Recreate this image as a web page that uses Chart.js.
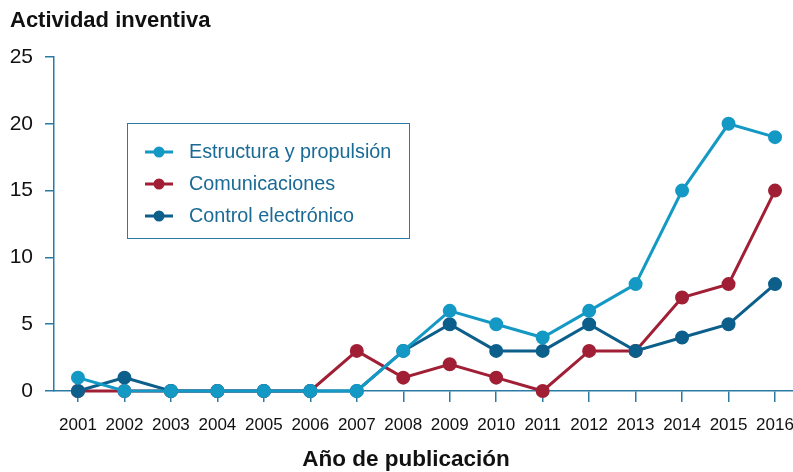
<!DOCTYPE html>
<html>
<head>
<meta charset="utf-8">
<script src="https://cdn.jsdelivr.net/npm/chart.js@4.4.1/dist/chart.umd.min.js"></script>
<style>
  html, body { margin: 0; padding: 0; background: #fff; }
  #wrap { width: 793px; height: 472px; }
</style>
</head>
<body>
<div id="wrap"><canvas id="lineChart"></canvas></div>
<script>
// data
const years = [2001, 2002, 2003, 2004, 2005, 2006, 2007, 2008, 2009, 2010, 2011, 2012, 2013, 2014, 2015, 2016];
const estructura = [1, 0, 0, 0, 0, 0, 0, 3, 6, 5, 4, 6, 8, 15, 20, 19];
const comunicaciones = [0, 0, 0, 0, 0, 0, 3, 1, 2, 1, 0, 3, 3, 7, 8, 15];
const control = [0, 1, 0, 0, 0, 0, 0, 3, 5, 3, 3, 5, 3, 4, 5, 8];
const yTicks = [0, 5, 10, 15, 20, 25];

const axisColor = "#2b7aa5";
const fontFamily = "'Liberation Sans', Arial, Helvetica, sans-serif";

function points(values) {
  return values.map((v, i) => ({ x: years[i], y: v }));
}

function series(label, values, color, order) {
  return {
    label: label,
    data: points(values),
    borderColor: color,
    backgroundColor: color,
    pointBackgroundColor: color,
    pointBorderColor: color,
    borderWidth: 3,
    pointRadius: 5.5,
    pointHoverRadius: 5.5,
    tension: 0,
    clip: false,
    order: order,
  };
}

// titles and the boxed legend inside the plot
const decorations = {
  id: "decorations",
  afterDraw(chart) {
    const ctx = chart.ctx;
    ctx.save();
    ctx.fillStyle = "#111";
    ctx.font = "bold 22px " + fontFamily;
    ctx.textAlign = "left";
    ctx.textBaseline = "alphabetic";
    ctx.fillText("Actividad inventiva", 10, 27);

    ctx.font = "bold 22.5px " + fontFamily;
    ctx.textAlign = "center";
    ctx.fillText("Año de publicación", 406, 466);

    // legend
    ctx.strokeStyle = axisColor;
    ctx.lineWidth = 1;
    ctx.strokeRect(127.5, 123.5, 282, 115);
    const rows = [152, 184, 216];
    ctx.font = "19.8px " + fontFamily;
    ctx.textAlign = "left";
    ctx.textBaseline = "middle";
    chart.data.datasets.forEach((ds, i) => {
      const y = rows[i];
      ctx.strokeStyle = ds.borderColor;
      ctx.lineWidth = 3;
      ctx.beginPath();
      ctx.moveTo(145, y);
      ctx.lineTo(173, y);
      ctx.stroke();
      ctx.fillStyle = ds.borderColor;
      ctx.beginPath();
      ctx.arc(159, y, 5.5, 0, Math.PI * 2);
      ctx.fill();
      ctx.fillStyle = "#1a6a96";
      ctx.fillText(ds.label, 189, y + 1);
    });
    ctx.restore();
  },
};

const ctxLine = document.getElementById("lineChart").getContext("2d");
new Chart(ctxLine, {
  type: "line",
  data: {
    datasets: [
      series("Estructura y propulsión", estructura, "#1499c5", 0),
      series("Comunicaciones", comunicaciones, "#a11f35", 2),
      series("Control electrónico", control, "#0d5f8b", 1),
    ],
  },
  options: {
    responsive: true,
    maintainAspectRatio: false,
    animation: false,
    layout: { autoPadding: false, padding: { top: 57, right: 0, bottom: 0, left: 0 } },
    plugins: {
      legend: { display: false },
      tooltip: { enabled: false },
    },
    scales: {
      x: {
        type: "linear",
        min: 2000.484,
        max: 2016.387,
        afterBuildTicks: (s) => { s.ticks = years.map((v) => ({ value: v })); },
        afterFit: (s) => { s.height = 81; s.paddingLeft = 0; s.paddingRight = 0; },
        ticks: {
          autoSkip: false,
          maxRotation: 0,
          padding: 13,
          color: "#111",
          font: { family: fontFamily, size: 17 },
          callback: (v) => String(v),
        },
        grid: { drawOnChartArea: false, drawTicks: true, tickLength: 11, color: axisColor, lineWidth: 1.5 },
        border: { color: axisColor, width: 1.5 },
      },
      y: {
        min: 0,
        max: 25,
        afterBuildTicks: (s) => { s.ticks = yTicks.map((v) => ({ value: v })); },
        afterFit: (s) => { s.width = 54; s.paddingTop = 0; s.paddingBottom = 0; },
        ticks: {
          padding: 12,
          color: "#111",
          font: { family: fontFamily, size: 21 },
        },
        grid: { drawOnChartArea: false, drawTicks: true, tickLength: 9, color: axisColor, lineWidth: 1.5 },
        border: { color: axisColor, width: 1.5 },
      },
    },
  },
  plugins: [decorations],
});
</script>
</body>
</html>
